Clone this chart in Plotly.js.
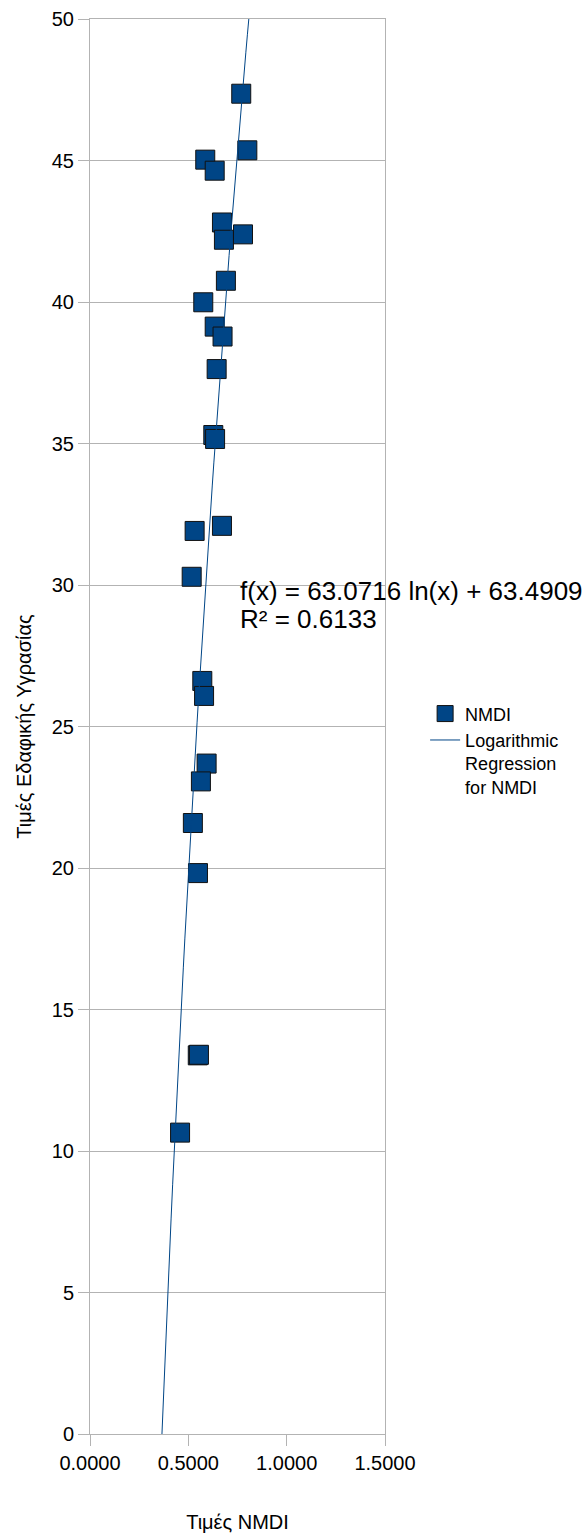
<!DOCTYPE html>
<html>
<head>
<meta charset="utf-8">
<script src="https://cdn.plot.ly/plotly-3.0.1.min.js"></script>
<style>
  html, body { margin: 0; padding: 0; background: #ffffff; }
  #chart { width: 585px; height: 1539px; }
</style>
</head>
<body>
<div id="chart"></div>
<script>
// NMDI values (x) and soil moisture values (y)
const nmdiValues = [0.769, 0.800, 0.586, 0.634, 0.671, 0.778, 0.681, 0.691, 0.576, 0.634,
                    0.674, 0.644, 0.627, 0.636, 0.671, 0.532, 0.517, 0.571, 0.580, 0.593,
                    0.564, 0.523, 0.549, 0.548, 0.554, 0.458];
const moistureValues = [47.36, 45.36, 45.03, 44.64, 42.81, 42.39, 42.20, 40.75, 39.99, 39.13,
                        38.78, 37.63, 35.30, 35.16, 32.09, 31.91, 30.29, 26.61, 26.08, 23.69,
                        23.06, 21.59, 19.82, 13.38, 13.40, 10.65];

// Logarithmic regression shown in the chart: f(x) = a ln(x) + b
const regA = 63.0716;
const regB = 63.4909;
const rSquared = 0.6133;

const xTickVals = [0, 0.5, 1.0, 1.5];
const yTickVals = [0, 5, 10, 15, 20, 25, 30, 35, 40, 45, 50];

// Regression curve evaluated over the span where it is visible
const xStart = Math.exp(-regB / regA) * 0.98;
const xEnd = Math.exp((50 - regB) / regA) * 1.02;
const curveX = [], curveY = [];
const nSteps = 60;
for (let i = 0; i <= nSteps; i++) {
  const x = xStart + (xEnd - xStart) * i / nSteps;
  curveX.push(x);
  curveY.push(regA * Math.log(x) + regB);
}

const blue = '#004586';
const gridGray = '#b3b3b3';
const fontFam = '"Liberation Sans", Arial, sans-serif';

const traces = [
  {
    type: 'scatter', mode: 'markers', name: 'NMDI',
    x: nmdiValues, y: moistureValues,
    marker: { symbol: 'square', size: 19, color: blue, line: { color: '#111111', width: 1 } }
  },
  {
    type: 'scatter', mode: 'lines', name: 'Logarithmic<br>Regression<br>for NMDI',
    x: curveX, y: curveY,
    line: { color: blue, width: 1 }
  }
];

const layout = {
  width: 585, height: 1539,
  margin: { l: 90, r: 200, t: 19, b: 105 },
  paper_bgcolor: '#ffffff', plot_bgcolor: '#ffffff',
  font: { family: fontFam, size: 20, color: '#000000' },
  showlegend: true,
  legend: {
    x: 1.136, y: 0.522, xanchor: 'left', yanchor: 'top', valign: 'top',
    font: { family: fontFam, size: 18, color: '#000000' },
    bgcolor: 'rgba(0,0,0,0)', tracegroupgap: 0
  },
  xaxis: {
    range: [0, 1.5], tickvals: xTickVals, tickformat: '.4f',
    showgrid: false, zeroline: false,
    showline: true, linecolor: gridGray, linewidth: 1, mirror: true,
    ticks: 'outside', ticklen: 11, tickcolor: gridGray, tickwidth: 1,
    tickfont: { family: fontFam, size: 20, color: '#000000' },
    title: { text: 'Τιμές NMDI', font: { family: fontFam, size: 20, color: '#000000' }, standoff: 41 },
    automargin: false
  },
  yaxis: {
    range: [0, 50], tickvals: yTickVals,
    showgrid: true, gridcolor: gridGray, gridwidth: 1, zeroline: false,
    showline: true, linecolor: gridGray, linewidth: 1, mirror: true,
    ticks: 'outside', ticklen: 11, tickcolor: gridGray, tickwidth: 1,
    tickfont: { family: fontFam, size: 20, color: '#000000' },
    title: { text: 'Τιμές Εδαφικής Υγρασίας', font: { family: fontFam, size: 20, color: '#000000' }, standoff: 14 },
    automargin: false
  },
  annotations: [
    {
      xref: 'paper', yref: 'y', x: 0.50, y: 29.78, xanchor: 'left', yanchor: 'middle',
      text: 'f(x) = ' + regA.toFixed(4) + ' ln(x) + ' + regB.toFixed(4),
      showarrow: false, font: { family: fontFam, size: 26, color: '#000000' }
    },
    {
      xref: 'paper', yref: 'y', x: 0.50, y: 28.81, xanchor: 'left', yanchor: 'middle',
      text: 'R² = ' + rSquared.toFixed(4),
      showarrow: false, font: { family: fontFam, size: 26, color: '#000000' }
    }
  ]
};

Plotly.newPlot('chart', traces, layout, { displayModeBar: false, responsive: false });
</script>
</body>
</html>
